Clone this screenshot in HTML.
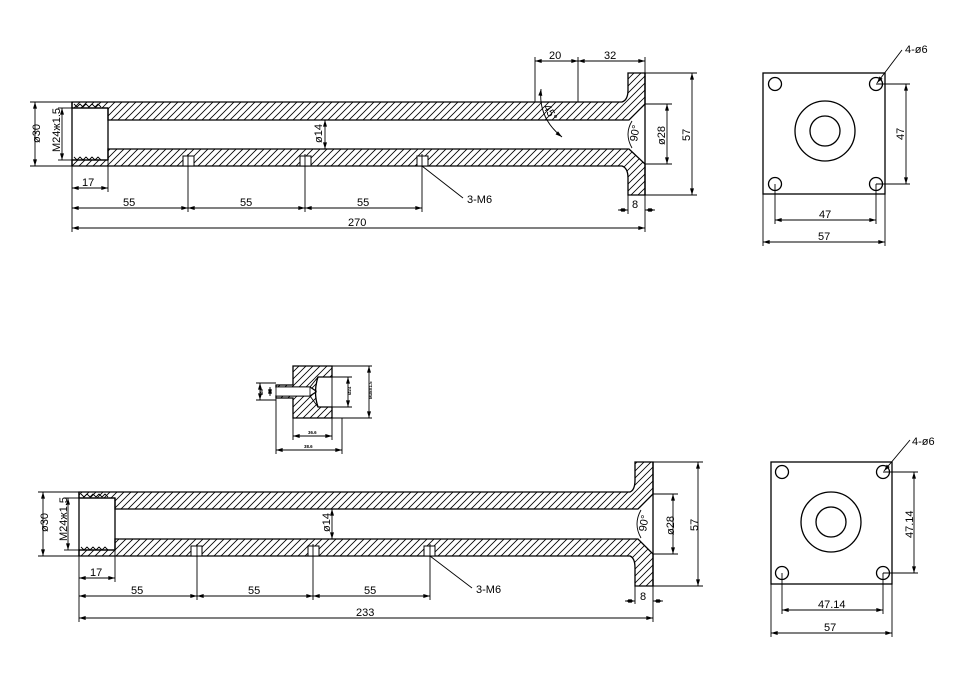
<!DOCTYPE html>
<html><head><meta charset="utf-8"><style>
html,body{margin:0;padding:0;background:#fff;}
svg{display:block}
text{font-family:"Liberation Sans",sans-serif;font-size:11px;fill:#000}
.o{fill:none;stroke:#000;stroke-width:1.3}
.h{fill:url(#hat);stroke:#000;stroke-width:1.3}
.d{stroke:#000;stroke-width:0.9;fill:none}
.a{stroke:#000;stroke-width:0.9;fill:none;marker-start:url(#ar);marker-end:url(#ar)}
</style></head><body>
<svg width="980" height="675" viewBox="0 0 980 675" xmlns="http://www.w3.org/2000/svg">
<defs>
<pattern id="hat" patternUnits="userSpaceOnUse" width="7" height="7">
<path d="M-1,1 l2,-2 M0,7 l7,-7 M6,8 l2,-2" stroke="#000" stroke-width="0.8"/>
</pattern>
<marker id="ar" viewBox="0 0 10 6" refX="10" refY="3" markerWidth="8" markerHeight="4" orient="auto-start-reverse" markerUnits="userSpaceOnUse">
<path d="M0,0 L10,3 L0,6 Z" fill="#000"/>
</marker>
</defs>

<!-- ===== TOP TUBE ===== -->
<path class="h" d="M72,102 L622,102 Q628,100 628,90 L628,73 L645,73 L645,104 L629,120 L108,120 L108,108 L72,108 Z"/>
<path class="h" d="M72,166 L622,166 Q628,168 628,178 L628,195 L645,195 L645,164 L629,149 L108,149 L108,160 L72,160 Z"/>
<line class="o" x1="72" y1="102" x2="72" y2="166"/>
<line class="o" x1="108" y1="108" x2="108" y2="160"/>
<line class="o" x1="72" y1="108" x2="108" y2="108"/>
<line class="o" x1="72" y1="160" x2="108" y2="160"/>
<polyline class="d" stroke-width="0.7" points="74,104 77,107 80,104 83,107 86,104 89,107 92,104 95,107 98,104 101,107"/>
<polyline class="d" stroke-width="0.7" points="74,157 77,160 80,157 83,160 86,157 89,160 92,157 95,160 98,157 101,160"/>
<line class="o" x1="645" y1="73" x2="645" y2="195"/>
<path class="d" d="M632,121 Q624,134 632,148"/>
<g fill="#fff" stroke="#000" stroke-width="1">
<rect x="183" y="156" width="11" height="10"/><rect x="300" y="156" width="11" height="10"/><rect x="417" y="156" width="11" height="10"/>
</g>
<g class="d"><line x1="188" y1="154" x2="188" y2="212"/><line x1="305" y1="154" x2="305" y2="212"/><line x1="422" y1="154" x2="422" y2="212"/>
<line x1="72" y1="166" x2="72" y2="232"/><line x1="108" y1="160" x2="108" y2="192"/><line x1="645" y1="195" x2="645" y2="232"/><line x1="628" y1="195" x2="628" y2="214"/>
<line x1="30" y1="102" x2="72" y2="102"/><line x1="30" y1="166" x2="72" y2="166"/>
<line x1="58" y1="108" x2="72" y2="108"/><line x1="58" y1="160" x2="72" y2="160"/>
<line x1="535" y1="57" x2="535" y2="102"/><line x1="578" y1="57" x2="578" y2="102"/><line x1="645" y1="57" x2="645" y2="73"/>
<line x1="645" y1="104" x2="672" y2="104"/><line x1="645" y1="164" x2="672" y2="164"/>
<line x1="645" y1="73" x2="697" y2="73"/><line x1="645" y1="195" x2="697" y2="195"/>
<line x1="422" y1="166" x2="463" y2="198"/>
</g>
<line class="a" x1="35" y1="102" x2="35" y2="166"/>
<line class="a" x1="62" y1="108" x2="62" y2="160"/>
<line class="a" x1="325" y1="120" x2="325" y2="149"/>
<line class="a" x1="72" y1="188" x2="108" y2="188"/>
<line class="a" x1="72" y1="208" x2="188" y2="208"/><line class="a" x1="188" y1="208" x2="305" y2="208"/><line class="a" x1="305" y1="208" x2="422" y2="208"/>
<line class="a" x1="72" y1="228" x2="645" y2="228"/>
<line class="a" x1="535" y1="61" x2="578" y2="61"/><line class="a" x1="578" y1="61" x2="645" y2="61"/>
<line class="a" x1="667" y1="104" x2="667" y2="164"/>
<line class="a" x1="692" y1="73" x2="692" y2="195"/>
<line class="a" x1="618" y1="210" x2="628" y2="210"/><line class="a" x1="655" y1="210" x2="645" y2="210"/>
<path class="d" d="M541,89 Q538,118 562,137" marker-start="url(#ar)" marker-end="url(#ar)"/>
<text x="82" y="186">17</text>
<text x="123" y="206">55</text><text x="240" y="206">55</text><text x="357" y="206">55</text>
<text x="348" y="226">270</text>
<text x="549" y="59">20</text><text x="604" y="59">32</text>
<text x="632" y="208">8</text>
<text x="467" y="203" font-size="12">3-M6</text>
<text transform="translate(40,143) rotate(-90)">ø30</text>
<text transform="translate(60,152) rotate(-90)">M24ж1.5</text>
<text transform="translate(322,143) rotate(-90)" font-size="10">ø14</text>
<text transform="translate(665,145) rotate(-90)" font-size="10">ø28</text>
<text transform="translate(690,141) rotate(-90)">57</text>
<text transform="translate(637,142) rotate(-80)" font-size="10">90°</text>
<text transform="translate(543,107) rotate(60)" font-size="10">45°</text>

<!-- ===== TOP RIGHT VIEW ===== -->
<rect class="o" x="763" y="73" width="122" height="121"/>
<g class="o" stroke-width="1"><circle cx="775" cy="84" r="6.5"/><circle cx="876" cy="84" r="6.5"/><circle cx="775" cy="184" r="6.5"/><circle cx="876" cy="184" r="6.5"/>
<circle cx="825" cy="131" r="30"/><circle cx="825" cy="131" r="15"/></g>
<g class="d"><line x1="876" y1="84" x2="910" y2="84"/><line x1="876" y1="184" x2="910" y2="184"/>
<line x1="775" y1="184" x2="775" y2="224"/><line x1="876" y1="184" x2="876" y2="224"/>
<line x1="763" y1="194" x2="763" y2="246"/><line x1="885" y1="194" x2="885" y2="246"/></g>
<line class="d" x1="902" y1="50" x2="877" y2="83" marker-end="url(#ar)"/>
<line class="a" x1="906" y1="84" x2="906" y2="184"/>
<line class="a" x1="775" y1="220" x2="876" y2="220"/>
<line class="a" x1="763" y1="242" x2="885" y2="242"/>
<text x="905" y="53" font-size="13">4-ø6</text>
<text x="819" y="218">47</text><text x="818" y="240">57</text>
<text transform="translate(904,140) rotate(-90)">47</text>

<!-- ===== SMALL DETAIL ===== -->
<path class="h" d="M293,366 L332,366 L332,377 L318,377 Q313,392 318,407 L332,407 L332,418 L293,418 L293,398 L276,398 L276,396 L310,396 L316,392 L316,391 L310,387 L276,387 L276,385 L293,385 Z" stroke-width="0.8"/>
<rect x="276" y="387" width="34" height="9" fill="#fff" stroke="#000" stroke-width="0.8"/>
<path class="d" d="M310,387 L318,377 M310,396 L318,407 M332,366 L332,418"/>
<g class="d" stroke-width="0.7"><line x1="332" y1="366" x2="372" y2="366"/><line x1="332" y1="418" x2="372" y2="418"/>
<line x1="332" y1="377" x2="352" y2="377"/><line x1="332" y1="407" x2="352" y2="407"/>
<line x1="276" y1="383" x2="256" y2="383"/><line x1="276" y1="400" x2="256" y2="400"/>
<line x1="293" y1="418" x2="293" y2="440"/><line x1="276" y1="398" x2="276" y2="454"/><line x1="332" y1="418" x2="332" y2="440"/><line x1="342" y1="418" x2="342" y2="454"/></g>
<line class="a" x1="369" y1="366" x2="369" y2="418"/>
<line class="a" x1="348" y1="377" x2="348" y2="407"/>
<line class="a" x1="260" y1="383" x2="260" y2="400"/>
<line class="a" x1="270" y1="387" x2="270" y2="396"/>
<line class="a" x1="293" y1="436" x2="332" y2="436"/>
<line class="a" x1="276" y1="450" x2="342" y2="450"/>
<text transform="translate(308,434) scale(0.4)" font-size="10" font-weight="bold">36.6</text>
<text transform="translate(304,448) scale(0.4)" font-size="10" font-weight="bold">38.6</text>
<text transform="translate(372,399) rotate(-90) scale(0.4)" font-size="10" font-weight="bold">M38X1.5</text>
<text transform="translate(351,395) rotate(-90) scale(0.4)" font-size="10" font-weight="bold">Ø24</text>
<text transform="translate(263,395) rotate(-90) scale(0.4)" font-size="10" font-weight="bold">Ø8</text>

<!-- ===== BOTTOM TUBE ===== -->
<path class="h" d="M79,492 L630,492 Q635,490 635,480 L635,462 L653,462 L653,494 L638,509 L115,509 L115,498 L79,498 Z"/>
<path class="h" d="M79,556 L630,556 Q635,558 635,568 L635,586 L653,586 L653,554 L638,539 L115,539 L115,550 L79,550 Z"/>
<line class="o" x1="79" y1="492" x2="79" y2="556"/>
<line class="o" x1="115" y1="498" x2="115" y2="550"/>
<line class="o" x1="79" y1="498" x2="115" y2="498"/>
<line class="o" x1="79" y1="550" x2="115" y2="550"/>
<polyline class="d" stroke-width="0.7" points="81,494 84,497 87,494 90,497 93,494 96,497 99,494 102,497 105,494 108,497"/>
<polyline class="d" stroke-width="0.7" points="81,547 84,550 87,547 90,550 93,547 96,550 99,547 102,550 105,547 108,550"/>
<line class="o" x1="653" y1="462" x2="653" y2="586"/>
<path class="d" d="M641,510 Q633,524 641,538"/>
<g fill="#fff" stroke="#000" stroke-width="1">
<rect x="191" y="546" width="11" height="10"/><rect x="308" y="546" width="11" height="10"/><rect x="424" y="546" width="11" height="10"/>
</g>
<g class="d"><line x1="197" y1="544" x2="197" y2="600"/><line x1="313" y1="544" x2="313" y2="600"/><line x1="430" y1="544" x2="430" y2="600"/>
<line x1="79" y1="556" x2="79" y2="622"/><line x1="115" y1="550" x2="115" y2="582"/><line x1="653" y1="586" x2="653" y2="622"/><line x1="635" y1="586" x2="635" y2="604"/>
<line x1="38" y1="492" x2="79" y2="492"/><line x1="38" y1="556" x2="79" y2="556"/>
<line x1="64" y1="498" x2="79" y2="498"/><line x1="64" y1="550" x2="79" y2="550"/>
<line x1="653" y1="494" x2="678" y2="494"/><line x1="653" y1="554" x2="678" y2="554"/>
<line x1="653" y1="462" x2="703" y2="462"/><line x1="653" y1="586" x2="703" y2="586"/>
<line x1="430" y1="556" x2="472" y2="588"/>
</g>
<line class="a" x1="43" y1="492" x2="43" y2="556"/>
<line class="a" x1="68" y1="498" x2="68" y2="550"/>
<line class="a" x1="332" y1="509" x2="332" y2="539"/>
<line class="a" x1="79" y1="578" x2="115" y2="578"/>
<line class="a" x1="79" y1="596" x2="197" y2="596"/><line class="a" x1="197" y1="596" x2="313" y2="596"/><line class="a" x1="313" y1="596" x2="430" y2="596"/>
<line class="a" x1="79" y1="618" x2="653" y2="618"/>
<line class="a" x1="673" y1="494" x2="673" y2="554"/>
<line class="a" x1="698" y1="462" x2="698" y2="586"/>
<line class="a" x1="625" y1="601" x2="635" y2="601"/><line class="a" x1="663" y1="601" x2="653" y2="601"/>
<text x="90" y="576">17</text>
<text x="131" y="594">55</text><text x="248" y="594">55</text><text x="364" y="594">55</text>
<text x="356" y="616">233</text>
<text x="640" y="600">8</text>
<text x="476" y="593" font-size="12">3-M6</text>
<text transform="translate(48,532) rotate(-90)">ø30</text>
<text transform="translate(67,541) rotate(-90)">M24ж1.5</text>
<text transform="translate(330,532) rotate(-90)" font-size="10">ø14</text>
<text transform="translate(674,535) rotate(-90)" font-size="10">ø28</text>
<text transform="translate(698,531) rotate(-90)">57</text>
<text transform="translate(646,532) rotate(-80)" font-size="10">90°</text>

<!-- ===== BOTTOM RIGHT VIEW ===== -->
<rect class="o" x="771" y="462" width="121" height="122"/>
<g class="o" stroke-width="1"><circle cx="782" cy="472" r="6.5"/><circle cx="883" cy="472" r="6.5"/><circle cx="782" cy="573" r="6.5"/><circle cx="883" cy="573" r="6.5"/>
<circle cx="831" cy="522" r="30"/><circle cx="831" cy="522" r="15"/></g>
<g class="d"><line x1="883" y1="472" x2="918" y2="472"/><line x1="883" y1="573" x2="918" y2="573"/>
<line x1="782" y1="573" x2="782" y2="614"/><line x1="883" y1="573" x2="883" y2="614"/>
<line x1="771" y1="584" x2="771" y2="637"/><line x1="892" y1="584" x2="892" y2="637"/></g>
<line class="d" x1="910" y1="440" x2="884" y2="471" marker-end="url(#ar)"/>
<line class="a" x1="914" y1="472" x2="914" y2="573"/>
<line class="a" x1="782" y1="610" x2="883" y2="610"/>
<line class="a" x1="771" y1="633" x2="892" y2="633"/>
<text x="912" y="445" font-size="13">4-ø6</text>
<text x="818" y="608">47.14</text><text x="824" y="631">57</text>
<text transform="translate(913,538) rotate(-90)">47.14</text>
</svg>
</body></html>
